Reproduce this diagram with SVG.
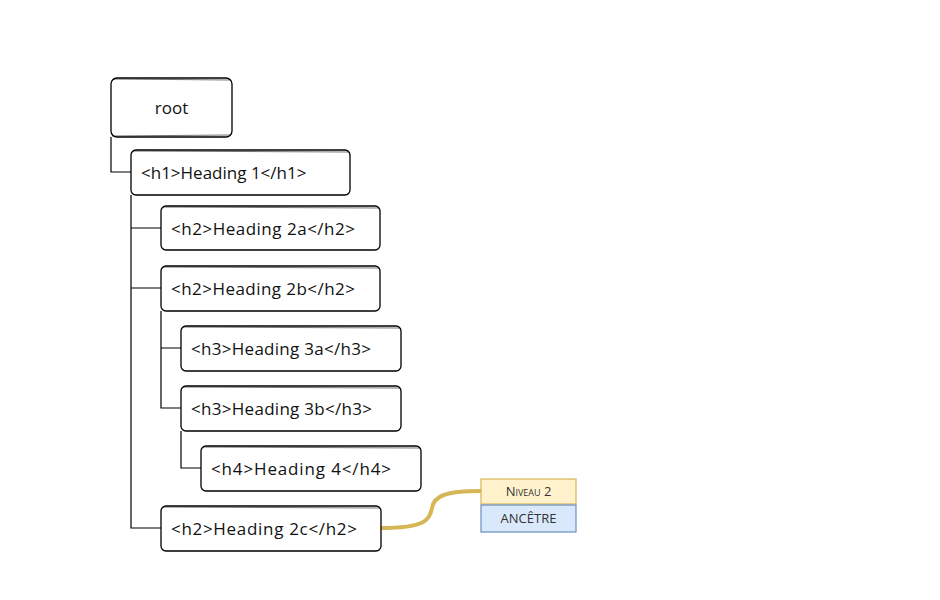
<svg xmlns="http://www.w3.org/2000/svg" width="940" height="600" viewBox="0 0 940 600">
<style>
.box{fill:#fff;stroke:#000;stroke-width:1.3}
.sk{fill:none;stroke:#000;stroke-width:0.8;opacity:0.7}
.t{font-family:"Open Sans","Liberation Sans",sans-serif;font-size:17px;fill:#111}
.c{fill:none;stroke:#000;stroke-width:1.2}
.lbl{font-family:"Open Sans","Liberation Sans",sans-serif;font-size:13px;fill:#333;text-anchor:middle}
</style>
<rect width="940" height="600" fill="#fff"/>
<g id="connectors">
<path class="c" d="M111,137 L111,172 L131,172"/>
<path class="c" d="M131,195 L131,528 L161,528 M131,228 L161,228 M131,288 L161,288"/>
<path class="c" d="M161,311 L161,408 L181,408 M161,348 L181,348"/>
<path class="c" d="M181,431 L181,468 L201,468"/>
<path d="M381,528 C425,528 430,520 432,508 C434,496 445,491 481,491" fill="none" stroke="#d6b656" stroke-width="4"/>
</g>
<g id="root"><rect class="box" x="111" y="78" width="121" height="59" rx="6"/><path class="sk" d="M113,79 L231,80 M112,136 L230,135"/><text class="t" x="171.5" y="114" text-anchor="middle" font-size="19">root</text></g>
<g id="h1"><rect class="box" x="131" y="150" width="219" height="45" rx="5"/><path class="sk" d="M133,151 L349,152"/><text class="t" x="141" y="179">&lt;h1&gt;Heading 1&lt;/h1&gt;</text></g>
<g id="h2a"><rect class="box" x="161" y="206" width="219" height="44" rx="5"/><path class="sk" d="M163,207 L379,208"/><text class="t" x="171" y="235" textLength="184">&lt;h2&gt;Heading 2a&lt;/h2&gt;</text></g>
<g id="h2b"><rect class="box" x="161" y="266" width="219" height="45" rx="5"/><path class="sk" d="M163,267 L379,268"/><text class="t" x="171" y="295" textLength="184">&lt;h2&gt;Heading 2b&lt;/h2&gt;</text></g>
<g id="h3a"><rect class="box" x="181" y="326" width="220" height="45" rx="5"/><path class="sk" d="M183,327 L400,328"/><text class="t" x="191" y="355" textLength="180">&lt;h3&gt;Heading 3a&lt;/h3&gt;</text></g>
<g id="h3b"><rect class="box" x="181" y="386" width="220" height="45" rx="5"/><path class="sk" d="M183,387 L400,388"/><text class="t" x="191" y="415" textLength="181">&lt;h3&gt;Heading 3b&lt;/h3&gt;</text></g>
<g id="h4"><rect class="box" x="201" y="446" width="220" height="45" rx="5"/><path class="sk" d="M203,447 L420,448"/><text class="t" x="211" y="475" textLength="180">&lt;h4&gt;Heading 4&lt;/h4&gt;</text></g>
<g id="h2c"><rect class="box" x="161" y="506" width="220" height="45" rx="5"/><path class="sk" d="M163,507 L380,508"/><text class="t" x="171" y="535" textLength="186">&lt;h2&gt;Heading 2c&lt;/h2&gt;</text></g>
<g id="niveau"><rect x="481" y="479" width="95" height="25" fill="#fff2cc" stroke="#d6b656" stroke-width="1.2"/><text class="lbl" x="528.5" y="496" font-variant="small-caps" font-size="14">Niveau 2</text></g>
<g id="ancetre"><rect x="481" y="505" width="95" height="27" fill="#dae8fc" stroke="#6c8ebf" stroke-width="1.2"/><text class="lbl" x="528.5" y="523">ANCÊTRE</text></g>
</svg>
